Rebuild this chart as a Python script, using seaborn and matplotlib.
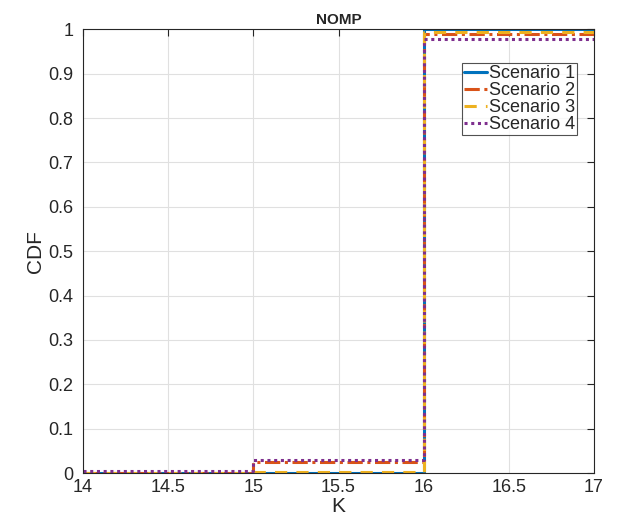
import matplotlib
matplotlib.use("Agg")
import matplotlib.pyplot as plt
import seaborn as sns
import pandas as pd

# K values and CDF values (step curves)
k_vals = [14, 15, 16, 17]
scenario1 = [0.0, 0.0, 1.0, 1.0]
scenario2 = [0.0, 0.025, 0.989, 0.989]
scenario3 = [0.0, 0.003, 0.994, 0.994]
scenario4 = [0.004, 0.030, 0.979, 0.979]
names = ["Scenario 1", "Scenario 2", "Scenario 3", "Scenario 4"]

sns.set_style("white")
plt.rcParams['font.family'] = ['Liberation Sans', 'DejaVu Sans']

fig = plt.figure(figsize=(6.2, 5.19), dpi=100)
ax = fig.add_axes([0.134, 0.0886, 0.824, 0.855])

colors = ["#0072BD", "#D95319", "#EDB120", "#7E2F8E"]
styles = ["-", (0, (5, 1.5, 1, 1.5)), (0, (4, 3)), (0, (1, 1.2))]

for name, vals, c, ls in zip(names, [scenario1, scenario2, scenario3, scenario4], colors, styles):
    df = pd.DataFrame({"K": k_vals, "CDF": vals})
    sns.lineplot(data=df, x="K", y="CDF", ax=ax, color=c, linestyle=ls,
                 linewidth=2.2, drawstyle="steps-post", label=name)

ax.set_xlim(14, 17)
ax.set_ylim(0, 1)
ax.set_xticks([14, 14.5, 15, 15.5, 16, 16.5, 17])
ax.set_xticklabels(["14", "14.5", "15", "15.5", "16", "16.5", "17"])
ax.set_yticks([i / 10 for i in range(11)])
ax.set_yticklabels(["0", "0.1", "0.2", "0.3", "0.4", "0.5", "0.6", "0.7", "0.8", "0.9", "1"])
ax.grid(True, color="#e0e0e0", linewidth=0.8)
ax.tick_params(direction="in", top=True, right=True, labelsize=13, length=5, width=0.8)
ax.tick_params(axis="y", pad=7)
ax.tick_params(axis="x", pad=4)
for s in ax.spines.values():
    s.set_color("#262626")
    s.set_linewidth(0.8)

ax.set_xlabel("K", fontsize=15, labelpad=1)
ax.set_ylabel("CDF", fontsize=15, labelpad=2)
ax.set_title("NOMP", fontsize=11, fontweight="bold", pad=4)

leg = ax.legend(loc="upper right", bbox_to_anchor=(0.967, 0.923), fontsize=13,
                frameon=True, fancybox=False, edgecolor="#262626",
                handlelength=1.3, handletextpad=0.1, borderpad=0.1,
                labelspacing=0.0, borderaxespad=0)
leg.get_frame().set_linewidth(0.8)

fig.savefig("out.png", dpi=100)
